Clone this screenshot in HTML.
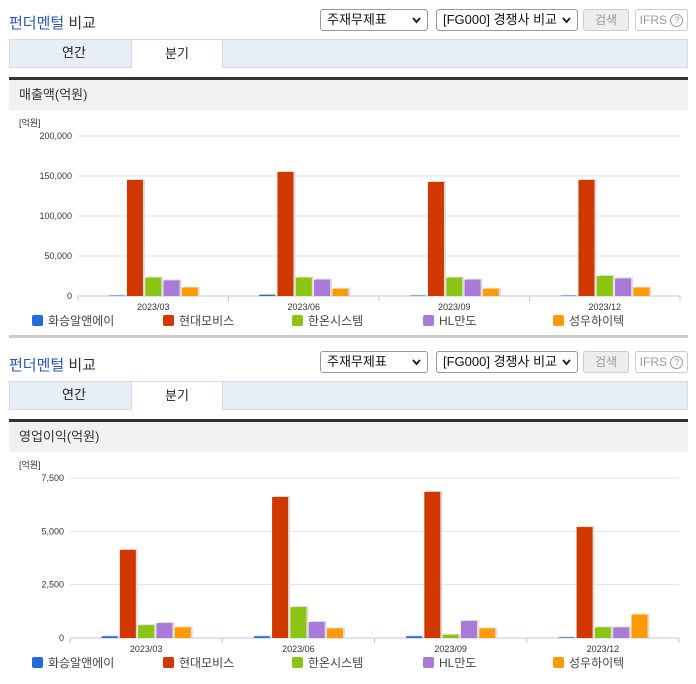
<!DOCTYPE html>
<html><head><meta charset="utf-8">
<style>
*{box-sizing:border-box;margin:0;padding:0}
body{width:696px;height:684px;background:#fff;font-family:"Liberation Sans","Noto Sans CJK KR",sans-serif;position:relative;overflow:hidden;color:#333}
.sec{position:absolute;left:0;width:696px;height:342px}
.title{position:absolute;left:9px;top:12px;font-size:15px;color:#333}
.title b{color:#2a54b3;font-weight:normal}
.sel{position:absolute;top:9px;height:22px;border:1px solid #999;border-radius:3px;font-size:13px;line-height:20px;padding:0 6px;background:#fff;color:#111}
.sel svg{position:absolute;right:6px;top:7px;left:auto}
.btn{position:absolute;top:9px;height:22px;border:1px solid #ccc;border-radius:3px;font-size:12px;color:#999;text-align:center;line-height:20px}
.tabs{position:absolute;left:9px;top:39px;width:679px;height:29px;background:#e8eef8;border:1px solid #d4dbe6}
.tab{position:absolute;top:-1px;height:29px;width:92px;text-align:center;line-height:28px;font-size:13px;color:#222}
.tab.on{background:#fff;border:1px solid #d4dbe6;border-bottom:none}
.dark{position:absolute;left:9px;top:77px;width:679px;height:3px;background:#333}
.hdr{position:absolute;left:9px;top:80px;width:679px;height:30px;background:#f1f1f1;font-size:13px;line-height:30px;padding-left:10px;color:#333}
.bot{position:absolute;left:9px;top:335px;width:679px;height:3px;background:#ccc}
svg.ch{position:absolute;left:0;top:0}
.q{display:inline-block;width:13px;height:13px;border:1px solid #999;border-radius:50%;font-size:9px;line-height:11px;vertical-align:middle}
</style></head><body>

<div class="sec" style="top:0">
 <div class="title"><b>펀더멘털</b> 비교</div>
 <div class="sel" style="left:320px;width:108px">주재무제표<svg width="9" height="7"><path d="M1 1L4.5 5L8 1" stroke="#222" stroke-width="2" fill="none"/></svg></div>
 <div class="sel" style="left:436px;width:142px">[FG000] 경쟁사 비교<svg width="9" height="7"><path d="M1 1L4.5 5L8 1" stroke="#222" stroke-width="2" fill="none"/></svg></div>
 <div class="btn" style="left:583px;width:46px;background:#eee">검색</div>
 <div class="btn" style="left:635px;width:53px">IFRS <span class="q">?</span></div>
 <div class="tabs">
  <div class="tab" style="left:18px">연간</div>
  <div class="tab on" style="left:121px">분기</div>
 </div>
 <div class="dark"></div>
 <div class="hdr">매출액(억원)</div>
 <svg class="ch" id="c1" width="696" height="342"></svg>
 <div class="bot"></div>
</div>

<div class="sec" style="top:342px">
 <div class="title"><b>펀더멘털</b> 비교</div>
 <div class="sel" style="left:320px;width:108px">주재무제표<svg width="9" height="7"><path d="M1 1L4.5 5L8 1" stroke="#222" stroke-width="2" fill="none"/></svg></div>
 <div class="sel" style="left:436px;width:142px">[FG000] 경쟁사 비교<svg width="9" height="7"><path d="M1 1L4.5 5L8 1" stroke="#222" stroke-width="2" fill="none"/></svg></div>
 <div class="btn" style="left:583px;width:46px;background:#eee">검색</div>
 <div class="btn" style="left:635px;width:53px">IFRS <span class="q">?</span></div>
 <div class="tabs">
  <div class="tab" style="left:18px">연간</div>
  <div class="tab on" style="left:121px">분기</div>
 </div>
 <div class="dark"></div>
 <div class="hdr">영업이익(억원)</div>
 <svg class="ch" id="c2" width="696" height="342"></svg>
</div>

<script>
const categories = ["2023/03","2023/06","2023/09","2023/12"];
const seriesNames = ["화승알앤에이","현대모비스","한온시스템","HL만도","성우하이텍"];
const seriesColors = ["#2469d8","#d03800","#8cc414","#a97ad8","#ff9a00"];
const revHwaseung = [500,1500,500,500];
const revMobis = [145000,155000,142500,145000];
const revHanon = [23000,23000,23000,25000];
const revHL = [19500,20500,20500,22000];
const revSungwoo = [10500,9000,9000,10500];
const revTicks = [0,50000,100000,150000,200000];
const opHwaseung = [80,80,80,30];
const opMobis = [4130,6610,6850,5200];
const opHanon = [600,1450,150,500];
const opHL = [700,750,800,500];
const opSungwoo = [500,450,450,1100];
const opTicks = [0,2500,5000,7500];

const NS="http://www.w3.org/2000/svg";
function mk(svg,tag,attrs,text){const e=document.createElementNS(NS,tag);for(const k in attrs)e.setAttribute(k,attrs[k]);if(text!==undefined)e.textContent=text;svg.appendChild(e);return e;}
function fmt(v){return v.toLocaleString("en-US");}

function draw(id,series,ticks,x0,x1,namePrefix){
 const svg=document.getElementById(id);
 const yTop=136,yBot=296,maxV=ticks[ticks.length-1];
 const y=v=>yBot-(v/maxV)*(yBot-yTop);
 const band=(x1-x0)/categories.length;
 const bx=i=>x0+band*i;
 const u=mk(svg,"text",{x:19,y:126,"font-size":9,fill:"#333"},"[억원]");
 
 
 ticks.forEach(t=>{
  mk(svg,"line",{x1:x0,x2:x1,y1:y(t),y2:y(t),stroke:t===0?"#c0c8d8":"#e2e2e2","stroke-width":1});
  const tl=mk(svg,"text",{x:x0-6,y:y(t)+3,"font-size":9,fill:"#333","text-anchor":"end"},fmt(t));
  
  
 });
 for(let i=0;i<=categories.length;i++){mk(svg,"line",{x1:bx(i),x2:bx(i),y1:yBot,y2:yBot+5,stroke:"#c0c8d8"});}
 const step=18.3,bw=16;
 categories.forEach((c,i)=>{
  const cx=bx(i)+band/2;
  const cl=mk(svg,"text",{x:cx,y:yBot+14,"font-size":9,fill:"#333","text-anchor":"middle"},c);
  
  
  series.forEach((s,j)=>{
   const left=cx+(j-2)*step-bw/2;
   const top=y(s[i]);
   mk(svg,"rect",{x:left+2,y:top-1,width:bw,height:Math.max(0,yBot-top+1),fill:"#ddd"});
   const r=mk(svg,"rect",{x:left,y:top,width:bw,height:Math.max(0,yBot-top),fill:seriesColors[j]});
   
   
  });
 });
 const lx=[32,163,292,423,553];
 seriesNames.forEach((n,j)=>{
  const g=mk(svg,"g",{});
  
  
  mk(g,"rect",{x:lx[j],y:315,width:11,height:11,rx:2,fill:seriesColors[j]});
  mk(g,"text",{x:lx[j]+16,y:325,"font-size":12,fill:"#444"},n);
 });
}
draw("c1",[revHwaseung,revMobis,revHanon,revHL,revSungwoo],revTicks,78,680,"revenue");
draw("c2",[opHwaseung,opMobis,opHanon,opHL,opSungwoo],opTicks,70,679,"operating-profit");
</script>
</body></html>
